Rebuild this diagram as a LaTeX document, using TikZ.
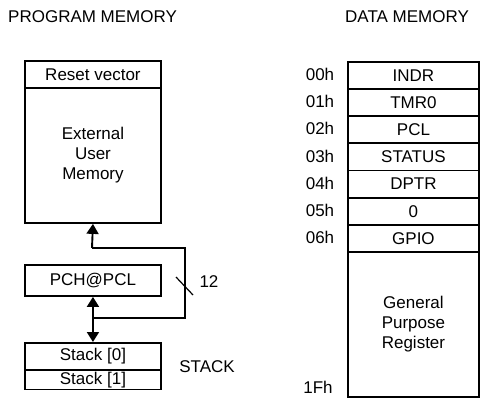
\documentclass[tikz,border=0pt]{standalone}
\usepackage{fontspec}
\setmainfont{Liberation Sans}
\usetikzlibrary{arrows.meta}
\begin{document}
\begin{tikzpicture}[x=1pt,y=-1pt,
  txt/.style={font=\fontsize{17}{20}\selectfont, inner sep=0pt},
  box/.style={draw, line width=1.9pt, rectangle, inner sep=0pt, anchor=north west, font=\fontsize{17}{20}\selectfont, align=center},
  wire/.style={line width=1.9pt},
  tip/.style={-{Triangle[width=12pt,length=10pt]}},
  dtip/.style={{Triangle[width=12pt,length=10pt]}-{Triangle[width=12pt,length=10pt]}}
]
\useasboundingbox (0,0) rectangle (480,399);
% titles
\node[txt, anchor=west] (tpm) at (8,17) {PROGRAM MEMORY};
\node[txt, anchor=west] (tdm) at (345,17) {DATA MEMORY};
% program memory
\node[box, minimum width=136pt, minimum height=27pt] (reset) at (24,60) {Reset vector};
\node[box, minimum width=136pt, minimum height=135pt] (ext) at (24,87) {External\\User\\Memory};
\node[box, minimum width=136pt, minimum height=31pt] (pch) at (24,264) {PCH@PCL};
\node[box, minimum width=136pt, minimum height=27pt] (s0) at (24,342) {Stack [0]};
\node[box, minimum width=136pt, minimum height=19.5pt] (s1) at (24,369) {Stack [1]};
\node[txt] (stk) at (207,367) {STACK};
% connectors
\coordinate (j1) at (92,248);
\coordinate (j2) at (92,318);
\coordinate (c1) at (185,248);
\coordinate (c2) at (185,318);
\draw[wire, line join=miter] (j2) -- (c2) -- (c1) -- (j1);
\draw[wire, tip] (j1) -- (ext.south);
\draw[wire, dtip] (pch.south) -- (s0.north);
\coordinate (sl1) at (176,277);
\coordinate (sl2) at (193,295);
\draw[line width=1.2pt] (sl1) -- (sl2);
\node[txt] (n12) at (209,282) {12};
% data memory
\foreach \i/\t/\a in {0/INDR/00h,1/TMR0/01h,2/PCL/02h,3/STATUS/03h,4/DPTR/04h,5/0/05h,6/GPIO/06h}{
  \node[box, minimum width=131pt, minimum height=27.14pt] (r\i) at (347,{61+27.14*\i}) {\t};
  \node[txt] (a\i) at (320,{74.57+27.14*\i}) {\a};
}
\node[box, minimum width=131pt, minimum height=145pt] (gpr) at (347,251) {General\\Purpose\\Register};
\node[txt] (a1f) at (318,387) {1Fh};
\end{tikzpicture}
\end{document}
